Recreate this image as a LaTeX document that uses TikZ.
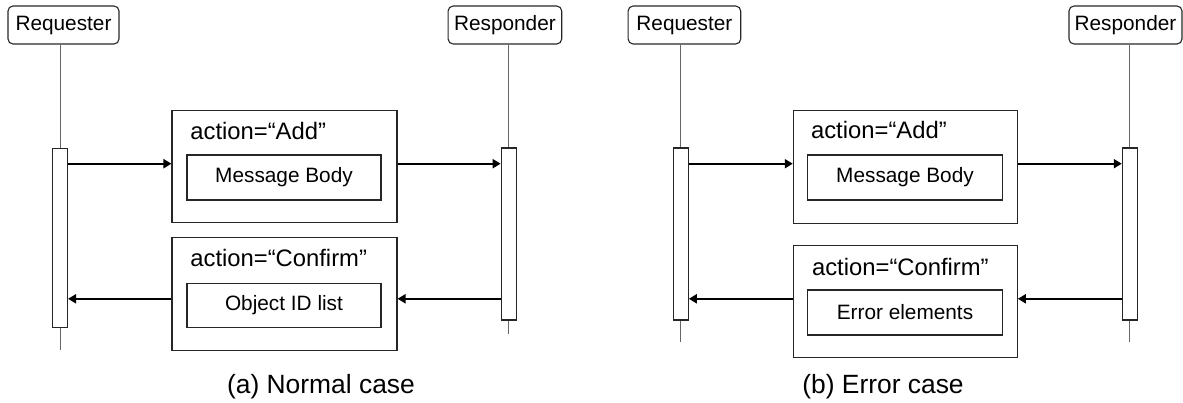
\documentclass[tikz,border=0pt]{standalone}
\usepackage{fontspec}
\setmainfont{Liberation Sans}
\usetikzlibrary{arrows.meta}
\begin{document}
\begin{tikzpicture}[
      x=0.5pt, y=-0.5pt,
      actor/.style={draw=black!85,line width=0.55pt,rounded corners=2.5pt,inner sep=0pt,minimum height=19pt,font=\fontsize{10.4}{12}\selectfont},
      life/.style={draw=black!60,line width=0.5pt},
      activation/.style={draw=black!85,line width=0.55pt,fill=white,inner sep=0pt,minimum width=7.5pt},
      envelope/.style={draw=black!85,line width=0.55pt,inner sep=0pt,minimum width=112.5pt,minimum height=56pt},
      payload/.style={draw=black!85,line width=0.55pt,inner sep=0pt,minimum width=97pt,minimum height=22.5pt,font=\fontsize{10.4}{12}\selectfont},
      action/.style={inner sep=0pt,anchor=base west,font=\fontsize{11.9}{14}\selectfont},
      caption/.style={inner sep=0pt,font=\fontsize{13.2}{16}\selectfont},
      msg/.style={line width=1.1pt,-{Triangle[length=4pt,width=4.5pt]}}
    ]
    \useasboundingbox (0,0) rectangle (1183,402);
    % Message levels.
    \coordinate (send) at (0,163.7);
    \coordinate (reply) at (0,298.8);
    % (a) Normal case: the actors and their activations.
    \node[actor,minimum width=55.5pt] (reqA) at (63.5,25) {Requester};
    \node[actor,minimum width=56.8pt] (respA) at (504.9,25) {Responder};
    \node[activation,minimum height=89.8pt] (actA) at (60,237.9) {};
    \node[activation,minimum height=86pt] (actRA) at (508.7,234) {};
    \coordinate (endA) at (60,350);
    \coordinate (endRA) at (508.7,334);
    \draw[life] (actA.north) -- (actA.north |- reqA.south);
    \draw[life] (actA.south) -- (endA);
    \draw[life] (actRA.north) -- (actRA.north |- respA.south);
    \draw[life] (actRA.south) -- (endRA);
    % (a) Normal case: the messages.
    \node[envelope] (addA) at (284.5,166.7) {};
    \node[action] (addtA) at (190,139) {action=“Add”};
    \node[payload] (bodyA) at (284,177.5) {Message Body};
    \node[envelope,minimum height=56.2pt] (cnfA) at (284.5,293.9) {};
    \node[action] (cnftA) at (190,266) {action=“Confirm”};
    \node[payload,minimum height=22.3pt] (idsA) at (284,305.4) {Object ID list};
    \draw[msg] (actA.east |- send) -- (addA.west |- send);
    \draw[msg] (addA.east |- send) -- (actRA.west |- send);
    \draw[msg] (actRA.west |- reply) -- (cnfA.east |- reply);
    \draw[msg] (cnfA.west |- reply) -- (actA.east |- reply);
    \node[caption] (capA) at (321,387) {(a) Normal case};
    % (b) Error case: the actors and their activations.
    \node[actor,minimum width=56.3pt] (reqB) at (684.4,25) {Requester};
    \node[actor,minimum width=56.5pt] (respB) at (1125.5,25) {Responder};
    \node[activation,minimum height=86pt] (actB) at (680.8,234) {};
    \node[activation,minimum height=86pt] (actRB) at (1129.8,234) {};
    \coordinate (endB) at (680.8,342);
    \coordinate (endRB) at (1129.8,342);
    \draw[life] (actB.north) -- (actB.north |- reqB.south);
    \draw[life] (actB.south) -- (endB);
    \draw[life] (actRB.north) -- (actRB.north |- respB.south);
    \draw[life] (actRB.south) -- (endRB);
    % (b) Error case: the messages.
    \node[envelope,minimum width=112pt,minimum height=56.3pt] (addB) at (905.3,167) {};
    \node[action] (addtB) at (810.7,138) {action=“Add”};
    \node[payload,minimum width=97.3pt] (bodyB) at (905,177.5) {Message Body};
    \node[envelope,minimum width=112pt,minimum height=56.2pt] (cnfB) at (905.3,301.5) {};
    \node[action] (cnftB) at (811.7,275) {action=“Confirm”};
    \node[payload,minimum width=97.3pt] (errB) at (905,312.5) {Error elements};
    \draw[msg] (actB.east |- send) -- (addB.west |- send);
    \draw[msg] (addB.east |- send) -- (actRB.west |- send);
    \draw[msg] (actRB.west |- reply) -- (cnfB.east |- reply);
    \draw[msg] (cnfB.west |- reply) -- (actB.east |- reply);
    \node[caption] (capB) at (883,387) {(b) Error case};
\end{tikzpicture}
\end{document}
